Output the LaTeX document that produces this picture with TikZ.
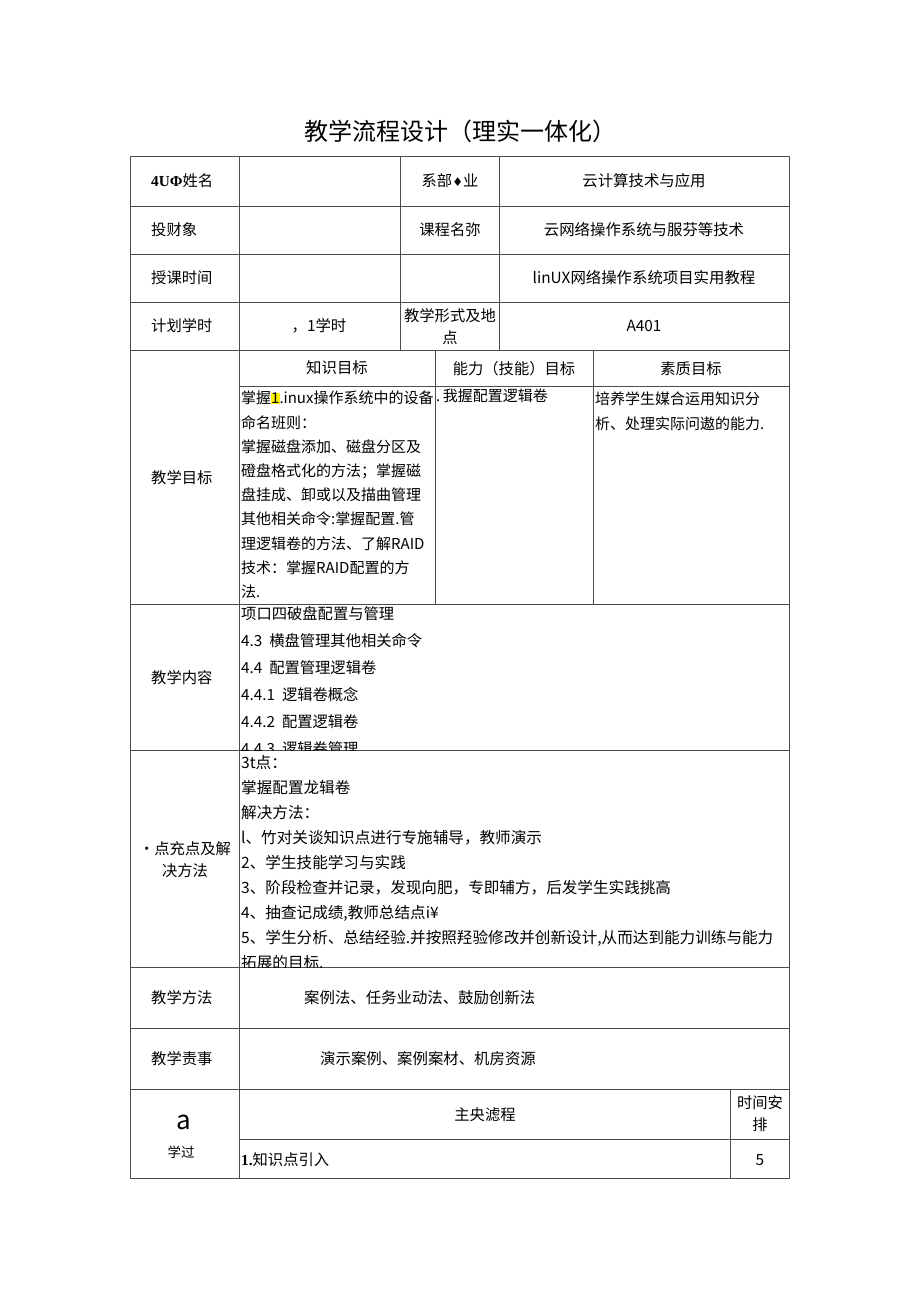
\documentclass[tikz,border=0pt]{standalone}
\usepackage{fontspec}
\setmainfont{Noto Sans CJK SC}
\newfontfamily\latinserif{Liberation Serif}
\newfontfamily\symfont{DejaVu Sans}
\usetikzlibrary{positioning}

\newcommand{\hlone}{{\setlength{\fboxsep}{0pt}\colorbox{yellow}{1}}}

\begin{document}
\begin{tikzpicture}[x=1pt,y=-1pt,
  rule/.style={draw=black!70,line width=0.9pt},
  lbl/.style={font=\fontsize{15.3}{22}\selectfont,inner sep=0pt},
  cell/.style={font=\fontsize{15.4}{22}\selectfont,inner sep=0pt},
  body/.style={font=\fontsize{15}{24.2}\selectfont,align=left,anchor=north west,inner sep=0pt}]
	\useasboundingbox[fill=white] (0,0) rectangle (920,1301);
	% table rules
	\draw[rule] (130,156) rectangle (789,1178);
	\foreach \y in {206,254,302,350,604,750,967,1028,1089}
		\draw[rule] (130,\y) -- (789,\y);
	\draw[rule] (239,386) -- (789,386);
	\draw[rule] (239,1139) -- (789,1139);
	\draw[rule] (239,156) -- (239,1178);
	\draw[rule] (400,156) -- (400,350);
	\draw[rule] (499,156) -- (499,350);
	\draw[rule] (435,350) -- (435,604);
	\draw[rule] (593,350) -- (593,604);
	\draw[rule] (730,1089) -- (730,1178);
	% title
	\node (title) at (460,131) {\fontsize{24}{26}\selectfont 教学流程设计（理实一体化）};
	% head rows
	\node[lbl,anchor=west] (nameL) at (151,181) {{\latinserif\bfseries 4UΦ}姓名};
	\node[lbl,anchor=west] (classL) at (151,230) {投财象};
	\node[lbl,anchor=west] (timeL) at (151,278) {授课时间};
	\node[lbl,anchor=west] (hoursL) at (151,326) {计划学时};
	\node[lbl] (deptL) at (450,181) {系部{\symfont\fontsize{12}{12}\selectfont ♦}业};
	\node[lbl] (courseL) at (450,230) {课程名弥};
	\node[lbl,align=center] (formL) at (450,327) {教学形式及地\\点};
	\node[cell] (deptV) at (644,181) {云计算技术与应用};
	\node[cell] (courseV) at (644,230) {云网络操作系统与服芬等技术};
	\node[cell] (bookV) at (644,278) {linUX网络操作系统项目实用教程};
	\node[cell] (placeV) at (644,326) {A401};
	\node[cell] (hoursV) at (319,326) {，1学时};
	% objectives
	\node[lbl,anchor=west] (goalL) at (151,478) {教学目标};
	\node[cell] (knowH) at (337,368) {知识目标};
	\node[lbl] (skillH) at (514,369) {能力（技能）目标};
	\node[lbl] (qualH) at (691,369) {素质目标};
	\node[body] (knowT) at (241,391) {掌握\hlone.inux操作系统中的设备\\命名班则：\\掌握磁盘添加、磁盘分区及\\磴盘格式化的方法；掌握磁\\盘挂成、卸或以及描曲管理\\其他相关命令:掌握配置.管\\理逻辑卷的方法、了解RAID\\技术：掌握RAID配置的方\\法.};
	\node[body] (skillT) at (436,389) {.\,我握配置逻辑卷};
	\node[body] (qualT) at (595,392) {培养学生媒合运用知识分\\析、处理实际问遨的能力.};
	% content
	\node[lbl,anchor=west] (contentL) at (151,678) {教学内容};
	\begin{scope}
		\clip (239,604) rectangle (789,750);
		\node[body,font=\fontsize{15.3}{27}\selectfont] (contentT) at (241,606) {项口四破盘配置与管理\\4.3\ \ 横盘管理其他相关命令\\4.4\ \ 配置管理逻辑卷\\4.4.1\ \ 逻辑卷概念\\4.4.2\ \ 配置逻辑卷\\4.4.3\ \ 逻辑卷管理};
	\end{scope}
	% key points
	\node[lbl,align=center] (diffL) at (185,860) {·点充点及解\\决方法};
	\begin{scope}
		\clip (239,750) rectangle (789,967);
		\node[body,font=\fontsize{15.6}{25}\selectfont] (diffT) at (241,755) {3t点：\\掌握配置龙辑卷\\解决方法：\\l、竹对关谈知识点进行专施辅导，教师演示\\2、学生技能学习与实践\\3、阶段检查并记录，发现向肥，专即辅方，后发学生实践挑高\\4、抽查记成绩,教师总结点i¥\\5、学生分析、总结经验.并按照羟验修改并创新设计,从而达到能力训练与能力\\拓展的目标.};
	\end{scope}
	% methods and resources
	\node[lbl,anchor=west] (methL) at (151,998) {教学方法};
	\node[cell,anchor=west] (methT) at (304,998) {案例法、任务业动法、鼓励创新法};
	\node[lbl,anchor=west] (resL) at (151,1059) {教学责事};
	\node[cell,anchor=west] (resT) at (320,1059) {演示案例、案例案材、机房资源};
	% process
	\node[inner sep=0pt] (procA) at (184,1122) {\fontsize{26}{26}\selectfont a};
	\node[lbl,font=\fontsize{13.5}{16}\selectfont] (procL) at (181,1152) {学过};
	\node[lbl] (flowH) at (485,1115) {主央滤程};
	\node[lbl,align=center] (timeH) at (760,1114) {时间安\\排};
	\node[lbl,anchor=west] (stepT) at (241,1160) {{\latinserif\bfseries 1.}知识点引入};
	\node[cell] (stepV) at (760,1160) {5};
\end{tikzpicture}
\end{document}
